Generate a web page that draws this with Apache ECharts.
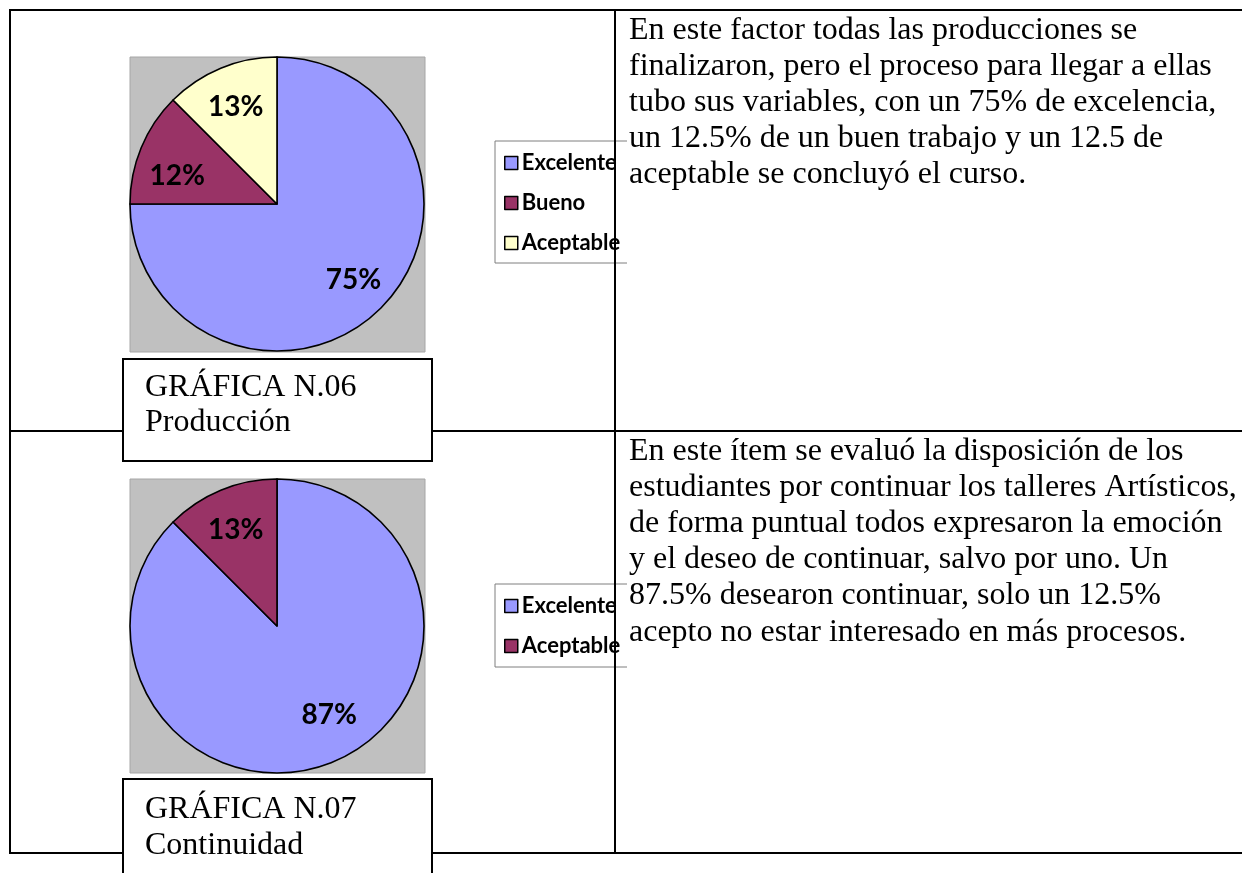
<!DOCTYPE html>
<html>
<head>
<meta charset="utf-8">
<script src="https://cdn.jsdelivr.net/npm/echarts@6/dist/echarts.min.js"></script>
<style>
  html, body { margin: 0; padding: 0; background: #fff; }
  #chart { width: 1242px; height: 873px; }
</style>
</head>
<body>
<div id="chart"></div>
<script>
// datos de las dos gráficas
var cats1 = ['Excelente', 'Bueno', 'Aceptable'];
var vals1 = [75, 12.5, 12.5];
var lbls1 = ['75%', '12%', '13%'];
var cols1 = ['#9999FF', '#993366', '#FFFFCC'];

var cats2 = ['Excelente', 'Aceptable'];
var vals2 = [87.5, 12.5];
var lbls2 = ['87%', '13%'];
var cols2 = ['#9999FF', '#993366'];

var captions = ['GRÁFICA N.06\nProducción', 'GRÁFICA N.07\nContinuidad'];
var texts = [
  'En este factor todas las producciones se\nfinalizaron, pero el proceso para llegar a ellas\ntubo sus variables, con un 75% de excelencia,\nun 12.5% de un buen trabajo y un 12.5 de\naceptable se concluyó el curso.',
  'En este ítem se evaluó la disposición de los\nestudiantes por continuar los talleres Artísticos,\nde forma puntual todos expresaron la emoción\ny el deseo de continuar, salvo por uno. Un\n87.5% desearon continuar, solo un 12.5%\nacepto no estar interesado en más procesos.'
];

// pequeño ajuste de las etiquetas (como las coloca Excel)
var nudge1 = [[0, 0], [0, 13], [0, 3]];
var nudge2 = [[11, -11], [0, 4]];

var serif = '"Liberation Serif", "Times New Roman", serif';
var sans = 'Lato, "Open Sans", sans-serif';

function mkData(cats, vals, cols) {
  return cats.map(function (c, i) {
    return { name: c, value: vals[i], itemStyle: { color: cols[i] } };
  });
}

function pieSeries(cats, vals, cols, lbls, nudge, cy) {
  return [
    {
      type: 'pie',
      center: [277, cy],
      radius: 147,
      startAngle: 90,
      clockwise: true,
      silent: true,
      animation: false,
      label: { show: false },
      labelLine: { show: false },
      itemStyle: { borderColor: '#000', borderWidth: 1.6 },
      data: mkData(cats, vals, cols)
    },
    {
      // capa solo para las etiquetas
      type: 'pie',
      center: [277, cy],
      radius: [0, 210],
      startAngle: 90,
      clockwise: true,
      silent: true,
      animation: false,
      z: 3,
      itemStyle: { color: 'rgba(0,0,0,0)', borderWidth: 0 },
      label: {
        show: true,
        position: 'inside',
        color: '#000',
        fontFamily: sans,
        fontWeight: 'bold',
        fontSize: 28,
        formatter: function (p) { return lbls[p.dataIndex]; }
      },
      labelLayout: function (p) {
        return { dx: nudge[p.dataIndex][0], dy: nudge[p.dataIndex][1] };
      },
      labelLine: { show: false },
      data: cats.map(function (c, i) { return { name: c, value: vals[i] }; })
    }
  ];
}

function legendBox(top, bottom) {
  return {
    type: 'polyline',
    z: 1,
    shape: { points: [[627, top], [495, top], [495, bottom], [627, bottom]] },
    style: { stroke: '#7f7f7f', lineWidth: 1, fill: null }
  };
}

function legendCfg(top, cats, cols) {
  return {
    orient: 'vertical',
    left: 504,
    top: top,
    padding: 0,
    itemGap: 18,
    itemWidth: 13,
    itemHeight: 13,
    icon: 'rect',
    selectedMode: false,
    itemStyle: { borderColor: '#000', borderWidth: 1.5 },
    textStyle: { fontFamily: sans, fontWeight: 'bold', fontSize: 22, lineHeight: 20, color: '#000', padding: [0, 0, 0, -1] },
    data: cats.map(function (c, i) { return { name: c, itemStyle: { color: cols[i] } }; })
  };
}

var chart = echarts.init(document.getElementById('chart'), null, { renderer: 'canvas' });

var lineStyle = { stroke: '#000', lineWidth: 2 };

var option = {
  backgroundColor: '#fff',
  animation: false,
  legend: [legendCfg(152, cats1, cols1), legendCfg(595, cats2, cols2)],
  graphic: [
    // tabla
    { type: 'line', z: 0, shape: { x1: 10, y1: 10, x2: 1242, y2: 10 }, style: lineStyle },
    { type: 'line', z: 0, shape: { x1: 10, y1: 431, x2: 1242, y2: 431 }, style: lineStyle },
    { type: 'line', z: 0, shape: { x1: 10, y1: 853, x2: 1242, y2: 853 }, style: lineStyle },
    { type: 'line', z: 0, shape: { x1: 10, y1: 9, x2: 10, y2: 854 }, style: lineStyle },
    { type: 'line', z: 100, shape: { x1: 615, y1: 9, x2: 615, y2: 854 }, style: lineStyle },
    // fondo gris de las gráficas
    { type: 'rect', z: 1, shape: { x: 130, y: 57, width: 295, height: 295 }, style: { fill: '#C0C0C0', stroke: '#a6a6a6', lineWidth: 1 } },
    { type: 'rect', z: 1, shape: { x: 130, y: 479, width: 295, height: 294 }, style: { fill: '#C0C0C0', stroke: '#a6a6a6', lineWidth: 1 } },
    // cajas de título
    { type: 'rect', z: 2, shape: { x: 123, y: 359, width: 309, height: 102 }, style: { fill: '#fff', stroke: '#000', lineWidth: 2 } },
    { type: 'rect', z: 2, shape: { x: 123, y: 779, width: 309, height: 110 }, style: { fill: '#fff', stroke: '#000', lineWidth: 2 } },
    { type: 'text', z: 3, left: 145, top: 370, style: { text: captions[0], font: '32px ' + serif, fill: '#000', lineHeight: 35 } },
    { type: 'text', z: 3, left: 145, top: 792, style: { text: captions[1], font: '32px ' + serif, fill: '#000', lineHeight: 36 } },
    // leyendas
    legendBox(141, 263),
    legendBox(584, 667),
    // textos
    { type: 'text', z: 3, left: 629, top: 13, style: { text: texts[0], font: '32px ' + serif, fill: '#000', lineHeight: 35.8 } },
    { type: 'text', z: 3, left: 629, top: 433, style: { text: texts[1], font: '32px ' + serif, fill: '#000', lineHeight: 36.2 } }
  ],
  series: pieSeries(cats1, vals1, cols1, lbls1, nudge1, 204).concat(pieSeries(cats2, vals2, cols2, lbls2, nudge2, 626))
};

chart.setOption(option);
</script>
</body>
</html>
